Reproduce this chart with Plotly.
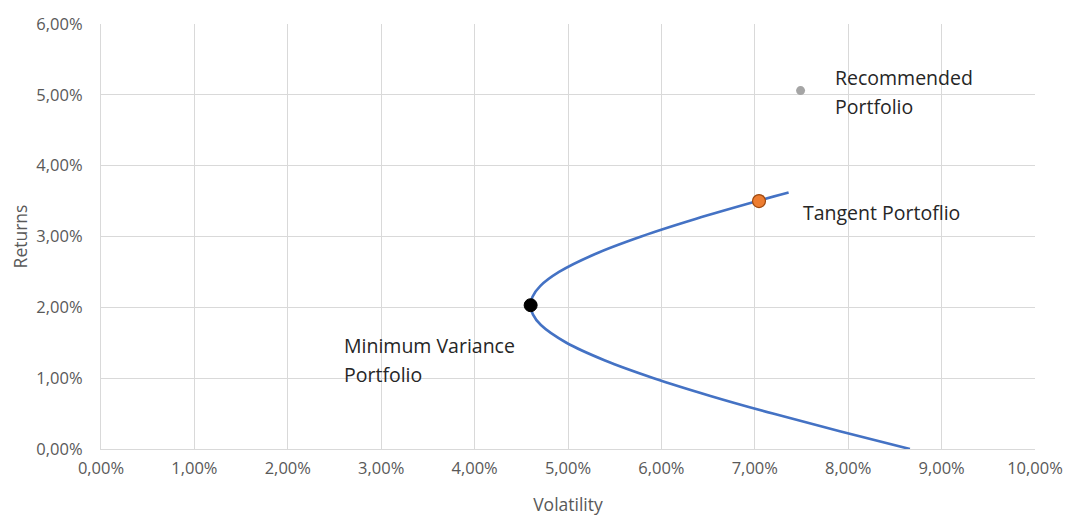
import plotly.graph_objects as go

# Efficient frontier (returns, volatility) in decimal fractions
frontier_returns = [0.0000, 0.0025, 0.0050, 0.0075, 0.0100, 0.0125, 0.0150, 0.0175, 0.0190,
                    0.0203, 0.0215, 0.0230, 0.0250, 0.0275, 0.0300, 0.0325, 0.0350, 0.0362]
frontier_vol = [0.08661, 0.07910, 0.07194, 0.06525, 0.05918, 0.05396, 0.04983, 0.04710, 0.04624,
                0.04600, 0.04620, 0.04702, 0.04904, 0.05285, 0.05784, 0.06373, 0.07029, 0.07362]

portfolio_names = ["Minimum Variance Portfolio", "Tangent Portoflio", "Recommended Portfolio"]
portfolio_vol = [0.0460, 0.07045, 0.0749]
portfolio_ret = [0.0203, 0.0350, 0.0506]

FONT = "Open Sans"
GRID = "#d9d9d9"
TICK = "#595959"

fig = go.Figure()
fig.add_trace(go.Scatter(
    x=frontier_vol, y=frontier_returns, mode="lines",
    line=dict(color="#4472C4", width=2.6, shape="spline", smoothing=1.0),
    hoverinfo="skip", showlegend=False))

marker_styles = [
    dict(color="#000000", size=13, line=dict(color="#000000", width=1)),
    dict(color="#ED7D31", size=13, line=dict(color="#9E480E", width=1.2)),
    dict(color="#A5A5A5", size=9, line=dict(width=0)),
]
for name, vx, vy, m in zip(portfolio_names, portfolio_vol, portfolio_ret, marker_styles):
    fig.add_trace(go.Scatter(x=[vx], y=[vy], mode="markers", marker=m,
                             name=name, showlegend=False))

# Data labels (two-line labels are laid out one line per annotation)
label_lines = [
    (0.0260, 0.0146, "Minimum Variance"), (0.0260, 0.0105, "Portfolio"),
    (0.0752, 0.0334, "Tangent Portoflio"),
    (0.0786, 0.0524, "Recommended"), (0.0786, 0.0484, "Portfolio"),
]
for lx, ly, txt in label_lines:
    fig.add_annotation(x=lx, y=ly, text=txt, showarrow=False, xanchor="left",
                       yanchor="middle", xshift=-2,
                       font=dict(family=FONT, size=19.5, color="#262626"))

axis_common = dict(
    showgrid=True, gridcolor=GRID, gridwidth=1.3, zeroline=False,
    showline=True, linecolor=GRID, linewidth=1.3, ticks="", automargin=False,
    tickformat=".2%", tickfont=dict(family=FONT, size=16.5, color=TICK),
)
fig.update_xaxes(range=[0, 0.10], dtick=0.01, tick0=0, ticklabelstandoff=4,
                 title=dict(text="Volatility", font=dict(family=FONT, size=17.5, color=TICK), standoff=20),
                 **axis_common)
fig.update_yaxes(range=[0, 0.06], dtick=0.01, tick0=0, ticklabelstandoff=14,
                 title=dict(text="Returns", font=dict(family=FONT, size=17.5, color=TICK), standoff=4),
                 **axis_common)

fig.update_layout(
    width=1070, height=518,
    margin=dict(l=101, r=35, t=24, b=69),
    paper_bgcolor="white", plot_bgcolor="white",
    separators=",.",
    font=dict(family=FONT),
)
fig.write_html("out.html")
